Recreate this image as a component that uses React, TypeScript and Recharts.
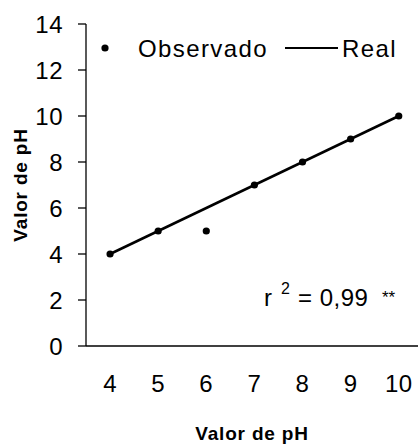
import { ComposedChart, Line, Scatter, XAxis, YAxis } from 'recharts';

// valores
const phValues = [4, 5, 6, 7, 8, 9, 10];
const observedValues = [4, 5, 5, 7, 8, 9, 10];
const realX = [4, 10];
const realY = [4, 10];
const xTicks = [4, 5, 6, 7, 8, 9, 10];
const yTicks = [0, 2, 4, 6, 8, 10, 12, 14];

const observedData = phValues.map((x, i) => ({ x, y: observedValues[i] }));
const realData = realX.map((x, i) => ({ x, y: realY[i] }));

const font = '"Liberation Sans", Arial, sans-serif';

const tickStyle = {
  fontSize: 24,
  fill: '#000',
  fontFamily: font,
  letterSpacing: 0.5,
};

const titleStyle = {
  fontSize: 19,
  fontWeight: 'bold',
  fontFamily: font,
  letterSpacing: 0.8,
  fill: '#000',
};

export default function App() {
  return (
    <div style={{ position: 'absolute', left: 0, top: 0, width: 418, height: 446, background: '#fff' }}>
      <ComposedChart width={418} height={446} margin={{ top: 24, right: 0, left: 0, bottom: 0 }}>
        <XAxis
          type="number"
          dataKey="x"
          domain={[3.5, 10.4]}
          ticks={xTicks}
          allowDataOverflow
          height={100}
          tickLine={false}
          tickSize={0}
          tickMargin={29}
          axisLine={{ stroke: '#000', strokeWidth: 1.3 }}
          tick={tickStyle}
          label={{ value: 'Valor de pH', position: 'insideBottom', offset: 6, ...titleStyle }}
        />
        <YAxis
          type="number"
          dataKey="y"
          domain={[0, 14]}
          ticks={yTicks}
          width={86}
          tickSize={8}
          tickMargin={15}
          tickLine={{ stroke: '#000', strokeWidth: 1.3 }}
          axisLine={{ stroke: '#000', strokeWidth: 1.3 }}
          tick={tickStyle}
          label={{
            value: 'Valor de pH',
            angle: -90,
            position: 'insideLeft',
            offset: 20,
            ...titleStyle,
            style: { textAnchor: 'middle' },
          }}
        />
        <Line
          data={realData}
          dataKey="y"
          type="linear"
          stroke="#000"
          strokeWidth={2.5}
          dot={false}
          isAnimationActive={false}
          name="Real"
        />
        <Scatter
          data={observedData}
          dataKey="y"
          fill="#000"
          isAnimationActive={false}
          name="Observado"
          shape={(p: any) => <circle cx={p.cx} cy={p.cy} r={3.6} fill="#000" />}
        />
        {/* legenda */}
        <g fontFamily={font} fill="#000">
          <circle cx={105} cy={48} r={3.6} fill="#000" />
          <text x={138} y={57} fontSize={24} letterSpacing={1.4}>Observado</text>
          <line x1={285} y1={48} x2={338} y2={48} stroke="#000" strokeWidth={2} />
          <text x={342} y={57} fontSize={24} letterSpacing={1.4}>Real</text>
        </g>
        <text fontFamily={font} fill="#000">
          <tspan x={264} y={306} fontSize={24} letterSpacing={0.5}>r</tspan>
          <tspan x={281} y={294} fontSize={16}>2</tspan>
          <tspan x={298} y={306} fontSize={24} letterSpacing={0.5}>= 0,99</tspan>
          <tspan x={382} y={303} fontSize={17}>**</tspan>
        </text>
      </ComposedChart>
    </div>
  );
}
